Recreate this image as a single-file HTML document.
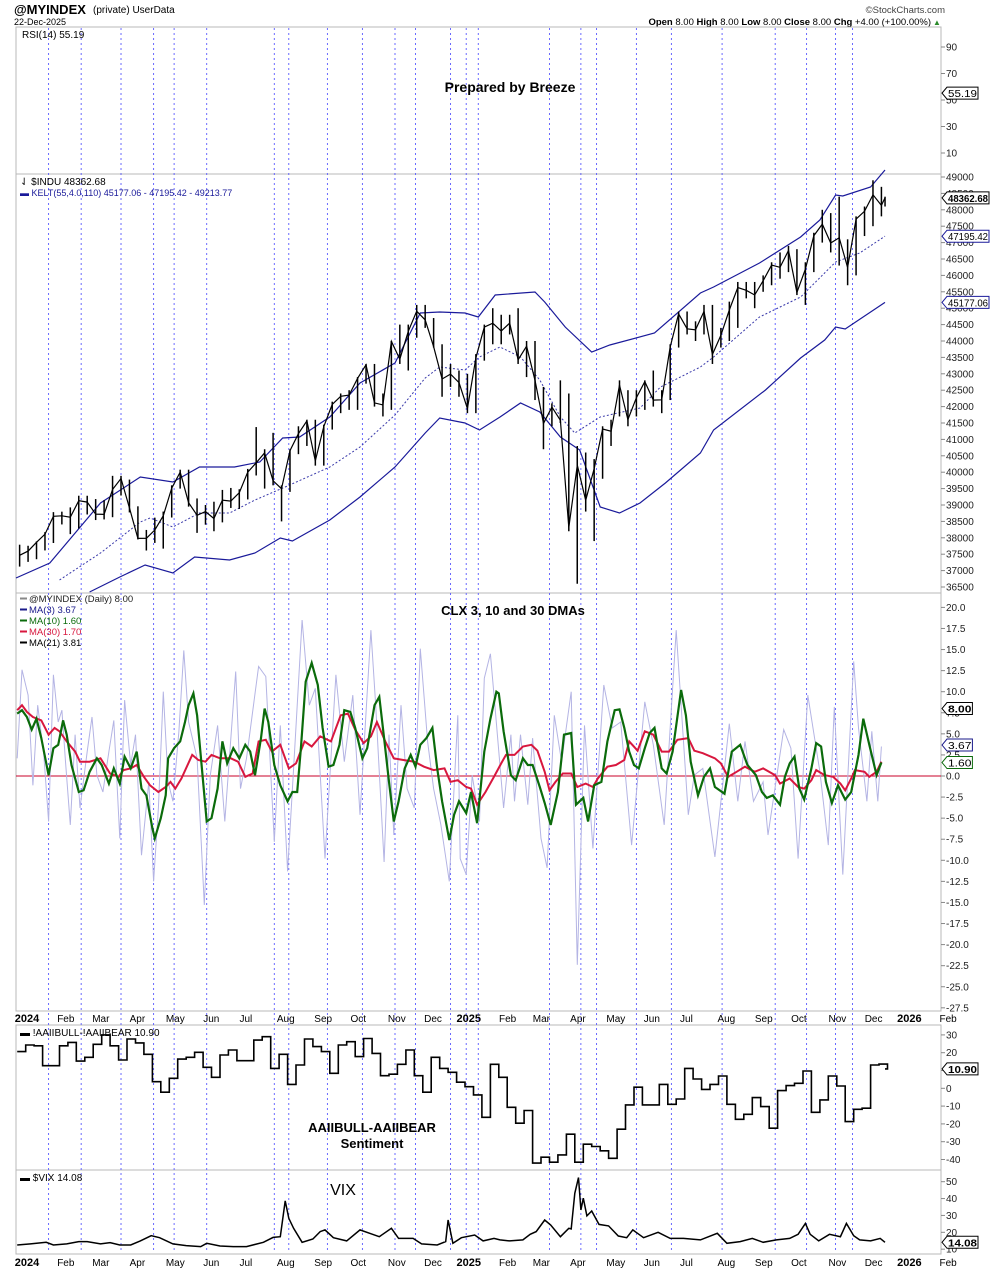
<!DOCTYPE html>
<html><head><meta charset="utf-8">
<style>
html,body{margin:0;padding:0;background:#fff;}
svg{display:block;font-family:"Liberation Sans",sans-serif;}
</style></head>
<body>
<svg id="chart" width="990" height="1270" viewBox="0 0 990 1270" xmlns="http://www.w3.org/2000/svg">
  <rect x="0" y="0" width="990" height="1270" fill="#fff"/>
  <text x="14" y="14" font-size="13" font-weight="bold">@MYINDEX</text>
  <text x="93" y="13" font-size="10">(private) UserData</text>
  <text x="14" y="25" font-size="9">22-Dec-2025</text>
  <text x="945" y="13" font-size="9.5" text-anchor="end" fill="#444">©StockCharts.com</text>
  <text x="931" y="25" font-size="9.5" text-anchor="end"><tspan font-weight="bold">Open</tspan> 8.00 <tspan font-weight="bold">High</tspan> 8.00 <tspan font-weight="bold">Low</tspan> 8.00 <tspan font-weight="bold">Close</tspan> 8.00 <tspan font-weight="bold">Chg</tspan> +4.00 (+100.00%)</text>
  <text x="933" y="25" font-size="8" fill="#2a8a2a">▲</text>
  <g id="layer"></g>
  <text x="510" y="92" font-size="14" font-weight="bold" text-anchor="middle">Prepared by Breeze</text>
  <text x="513" y="615" font-size="13" font-weight="bold" text-anchor="middle">CLX 3, 10 and 30 DMAs</text>
  <text x="372" y="1132" font-size="13" font-weight="bold" text-anchor="middle">AAIIBULL-AAIIBEAR</text>
  <text x="372" y="1148" font-size="13" font-weight="bold" text-anchor="middle">Sentiment</text>
  <text x="343" y="1195" font-size="16" text-anchor="middle">VIX</text>
</svg>
<script>
// ---------- DATA ----------
const priceCloses = [37466,37593,37863,38109,38654,38671,38627,39131,39087,38722,38714,39475,39807,38904,37983,37986,38239,38675,39512,40003,39069,38686,38799,38589,39150,39118,39375,40000,40287,40589,39737,39497,40659,41175,41563,40345,41393,42063,42313,42352,42864,43275,42114,42052,43989,43444,44297,44910,44642,43828,42840,42992,
42732,41938,43488,44424,44544,44303,44546,43428,43841,42801,41488,41985,41583,38315,40212,39142,40113,41317,41249,42654,41603,42270,42762,42197,42206,43819,44828,44371,44342,44902,43589,44175,44946,45631,45545,45401,45834,46315,46247,46758,45480,46191,47207,47563,46987,47147,46245,47716,47955,48458,48134,48362];
const priceLows = [37122,37266,37347,37615,37841,38407,38112,38283,38711,38541,38560,38628,39289,38773,37950,37612,37844,37670,38618,39500,38950,38150,38400,38200,38470,38910,38880,39170,39900,39500,39600,38500,39400,40550,40800,40200,40200,41300,41800,41900,41900,42700,42000,41700,41900,43300,43100,44100,44400,43800,42300,42600,
42300,41800,41800,43400,43900,43900,44200,43300,42900,42200,40700,41400,41500,38200,36600,38800,37900,39800,40800,41700,41400,41700,41900,42000,41800,42200,43800,44200,44000,44200,43300,43800,44000,44400,45300,45000,45500,45700,45900,46100,45400,45100,46100,47000,46700,46300,45700,46000,47200,47500,47800,48100];
const priceHighs = [37790,37757,37890,38172,38783,38797,38927,39283,39282,39181,39148,39889,39889,39775,38960,38240,38614,38800,39600,40077,40077,39200,39000,39100,39460,39520,39480,40100,41376,40700,41200,39600,40700,41400,41600,41600,41450,42150,42400,42500,42900,43300,43300,42400,44000,44500,44500,45100,45100,44700,43900,43300,
43100,43000,43600,44500,45000,44800,44800,45000,44000,44000,42600,42100,42800,42400,40800,40600,40400,41400,41600,42800,42500,42500,42800,43100,42500,43900,44900,44900,44600,45100,45100,44400,45200,45800,45800,45800,46000,46400,46700,46900,46800,46400,47300,48000,47900,48400,47100,47800,48100,48900,48700,48400];
const upperDays = [0,28,70,103,130,152,181,202,221,235,260,285,314,335,351,372,383,397,430,438,455,477,492,529,567,578,616,650,666,679,685,708,720];
const upperVals = [36774,37231,39060,39853,39701,40158,40158,40310,41042,41073,41683,42719,43329,44854,44884,44854,44732,45402,45494,45189,44427,43665,43878,44244,45463,45646,46378,47171,47689,48451,48421,48695,49214];
const midDays = [36,70,103,111,130,152,177,198,223,260,285,314,339,351,372,384,401,418,434,451,463,484,517,534,567,578,616,650,679,699,720];
const midVals = [36713,37536,38481,38603,38329,38755,38755,39152,39548,40158,40768,41743,42872,43207,43115,43512,43817,43512,42811,41682,41194,41682,41957,42597,43207,43512,44732,45342,46409,46683,47195];
const lowDays = [61,86,107,130,148,177,198,219,229,260,285,314,339,351,372,384,401,418,434,451,467,484,500,517,538,567,578,621,650,670,679,687,720];
const lowVals = [36347,36804,37170,36926,37414,37322,37536,37993,37902,38542,39243,40158,41194,41652,41499,41286,41682,42109,41835,41073,40676,38938,38755,39060,39670,40585,41286,42506,43482,44030,44427,44366,45177];

const rawDays = [1,5,10,14,18,23,27,31,35,38,41,45,49,53,59,63,67,72,77,81,86,90,95,99,104,110,114,118,122,126,130,135,139,143,150,156,161,167,173,182,186,191,201,207,214,219,225,230,237,243,248,256,265,272,279,285,294,298,305,309,313,319,324,330,335,341,346,352,359,366,368,373,
378,384,388,393,396,404,410,413,418,424,428,435,440,446,452,460,465,471,478,487,494,501,510,521,528,537,547,557,562,569,579,591,598,604,611,619,623,636,642,648,656,666,673,678,685,694,698,705,709,714,717];
const rawVals = [2.1,12.6,9.6,-1.1,8.4,2.5,-5.4,12.0,6.4,7.8,1.7,-5.8,4.9,-3.8,2.9,7.0,0.1,-1.9,2.9,6.6,-7.4,9.0,1.3,4.9,-9.4,-0.7,-12.5,-3.8,10.0,-0.7,-3.0,5.3,14.9,6.4,2.1,-15.3,0.1,6.0,-5.4,12.4,-1.5,2.1,13.0,11.8,-7.8,6.0,-11.3,0.9,18.5,8.4,10.4,-9.8,12.0,1.7,9.6,-4.6,17.3,8.4,-10.2,4.9,-7.0,8.4,-1.5,-3.8,15.1,4.1,-1.5,-5.8,-12.5,7.2,-9.8,-11.7,
0.1,-5.4,11.6,14.5,9.6,-3.8,4.9,-3.0,4.9,-3.4,4.5,-7.4,-10.9,7.2,1.7,10.0,-22.4,6.0,-8.6,10.8,5.7,6.4,-8.2,8.8,3.7,-5.8,17.3,-4.6,0.1,0.9,-9.6,6.2,-3.0,4.1,-3.0,-0.7,-7.0,5.5,3.3,-9.8,9.6,0.5,-8.2,8.2,-11.7,13.6,5.7,-3.0,5.3,-3.0,3.5];

const ma10Days = [1,5,9,13,17,21,27,31,35,39,42,46,52,56,61,67,71,77,81,86,90,95,100,104,108,113,115,120,124,126,131,136,140,143,147,150,154,158,162,167,171,175,180,185,190,194,198,203,206,209,214,219,225,229,233,236,240,245,250,254,259,263,268,272,277,281,287,291,297,301,305,309,313,317,322,327,331,335,340,345,349,353,359,363,367,373,377,
382,388,393,398,400,404,410,414,420,424,428,434,438,443,449,454,460,464,470,474,479,485,490,496,500,504,508,512,516,521,525,529,535,539,544,551,555,559,565,570,575,579,587,593,600,606,613,618,622,627,633,637,641,645,649,653,659,663,667,671,676,681,687,692,698,702,707,713,717];
const ma10Vals = [7.4,7.8,7.0,5.5,6.8,4.5,0.1,3.3,3.7,6.6,4.9,1.3,-1.9,-1.7,0.5,2.1,1.3,-0.9,0.9,-0.9,2.3,0.9,2.9,-1.5,-2.3,-6.2,-7.4,-5.0,-2.3,2.1,3.3,4.1,6.4,8.4,9.8,7.2,0.9,-5.4,-5.0,-1.5,4.1,1.5,3.3,2.1,3.7,2.9,0.1,4.5,8.0,6.4,1.3,-1.1,-3.0,-1.9,-1.9,3.3,11.2,13.4,10.8,5.7,1.1,1.3,3.7,7.8,7.6,5.7,2.1,3.3,8.4,9.4,4.5,-0.7,-5.4,-3.0,0.9,2.5,1.1,3.7,4.5,5.7,0.9,-3.0,-7.6,-4.6,-3.0,-4.4,-1.9,
-5.6,2.9,6.8,10.0,9.8,5.3,0.1,-0.5,2.1,1.3,1.3,-1.3,-3.2,-5.8,-1.9,4.9,5.1,-3.4,-2.6,-5.4,-1.1,-0.7,4.1,7.8,7.9,5.7,2.9,1.3,0.9,3.3,5.1,5.7,0.9,0.3,2.9,10.2,7.2,1.7,-2.3,-0.1,0.9,-1.3,-2.1,2.9,3.7,1.3,0.1,-1.9,-2.6,-2.3,-3.4,-0.1,1.5,2.3,-1.5,-2.8,0.9,3.9,3.5,-0.7,-3.2,-1.1,-2.8,-1.9,2.5,6.8,3.7,0.1,1.6];

const ma30Days = [1,5,9,14,21,27,32,36,42,49,53,61,70,78,85,89,95,100,106,111,118,124,128,132,137,146,151,157,162,169,178,184,190,196,201,207,212,219,226,232,239,245,252,261,269,275,281,288,294,299,306,313,321,330,338,346,355,360,366,373,377,
382,389,396,402,406,413,420,427,432,438,442,447,453,460,465,472,478,482,490,497,504,508,515,521,528,535,541,548,557,562,569,579,584,590,597,604,612,619,629,633,641,648,653,659,663,670,677,683,687,692,695,703,707,713,717];
const ma30Vals = [7.8,8.4,7.6,7.0,6.6,4.9,5.7,5.3,4.1,2.9,1.7,1.7,2.1,0.3,-0.1,0.7,0.9,1.3,-0.1,-1.1,-1.9,-1.3,-0.7,-1.5,-0.3,2.5,1.9,1.7,2.5,2.1,2.1,1.7,-0.1,0.3,4.1,4.3,2.9,3.7,0.9,1.5,4.1,3.5,4.7,4.1,7.2,7.4,5.5,3.9,4.7,6.4,4.1,2.1,1.9,1.7,1.1,0.7,0.9,-0.7,-0.5,-1.3,-1.5,
-3.4,-1.9,-0.1,1.5,2.5,2.5,3.5,3.7,3.0,0.5,-1.7,-0.7,0.3,0.3,-1.3,-0.9,-1.3,-0.3,1.1,1.3,1.9,4.1,3.0,5.3,4.9,2.9,2.9,4.3,4.5,3.0,2.7,2.1,1.5,-0.1,0.5,1.1,0.5,0.9,0.1,-0.9,-0.3,-1.3,-1.5,-0.5,0.7,0.1,-0.1,-0.9,-1.7,-0.3,0.7,0.5,-0.1,0.5,1.7];

const aaiiVals = [20.6,24.3,23.9,12.7,12.7,23.9,25.8,15.3,17.4,24.7,30.0,23.9,15.9,27.7,25.5,19.1,3.7,-2.2,5.6,16.4,17.4,20.2,11.8,6.2,18.7,21.5,15.5,15.5,27.1,29.0,11.2,19.1,2.2,13.1,27.7,23.4,20.6,8.4,24.3,26.2,17.8,28.0,19.6,7.1,7.9,13.5,21.5,7.1,-2.2,17.4,11.2,9.0,3.4,0.9,-3.7,-16.3,13.5,6.2,
-10.7,-19.6,-12.5,-42.0,-38.7,-41.5,-37.4,-25.8,-41.5,-31.4,-32.7,-35.1,-39.3,-23.0,-9.3,0.6,-9.3,-9.3,2.2,-9.0,-6.0,11.2,5.2,-0.6,2.2,6.9,-9.0,-17.4,-14.6,-5.2,-10.3,-22.4,-1.3,1.5,2.8,9.7,-13.5,-6.5,6.9,1.3,-18.7,-11.8,-11.2,13.1,13.6,10.9];

const vixDays = [1,12,25,31,42,52,59,70,78,86,95,103,112,119,130,141,153,158,169,180,191,205,213,219,223,226,230,237,246,252,256,263,274,285,293,301,311,317,329,336,349,356,358,362,369,380,387,396,401,409,420,426,431,438,443,451,458,460,463,466,468,470,473,477,483,491,499,506,511,520,532,542,553,567,581,589,600,610,619,630,641,648,654,658,665,674,683,688,694,699,708,716,720];
const vixVals = [12.5,13.1,14.1,12.5,13.1,14.5,14.5,13.1,13.9,12.5,12.5,14.9,18.0,16.8,13.1,12.1,11.5,13.5,11.9,11.5,11.5,14.1,17.0,17.4,38.6,28.3,22.4,14.1,16.0,20.4,21.4,16.8,14.9,21.4,19.4,17.4,22.4,16.4,16.4,13.1,12.5,14.5,27.3,13.5,16.8,18.4,14.9,16.4,15.5,14.9,15.5,18.8,20.4,27.3,24.3,17.4,22.4,22.0,43.1,52.4,33.2,40.2,29.7,32.6,24.7,23.8,17.8,16.8,21.4,16.8,20.0,16.4,16.4,15.5,19.4,13.5,14.5,16.4,14.1,15.5,16.4,18.8,25.3,18.8,14.9,18.8,17.4,25.3,18.0,15.5,14.9,16.4,14.08];

const priceTicks = [36500,37000,37500,38000,38500,39000,39500,40000,40500,41000,41500,42000,42500,43000,43500,44000,44500,45000,45500,46000,46500,47000,47500,48000,48500,49000];
const clxTicks = [20,17.5,15,12.5,10,7.5,5,2.5,0,-2.5,-5,-7.5,-10,-12.5,-15,-17.5,-20,-22.5,-25,-27.5];
const rsiTicks = [90,70,50,30,10];
const aaiiTicks = [30,20,10,0,-10,-20,-30,-40];
const vixTicks = [50,40,30,20,10];
const monthLabels = ["2024","Feb","Mar","Apr","May","Jun","Jul","Aug","Sep","Oct","Nov","Dec","2025","Feb","Mar","Apr","May","Jun","Jul","Aug","Sep","Oct","Nov","Dec","2026","Feb"];
const monthDays = [-1,30,59,90,120,151,181,212,243,273,304,334,365,396,424,455,485,516,546,577,608,638,669,699,730,761];
const markerDays = [27,54,87,114,131,158,214,226,258,287,314,331,360,373,383,442,468,481,514,543,585,629,655,679,693];

// ---------- SCALES ----------
const L = 16, R = 941;
const xDay = d => L + d * 1.207;
const yPrice = v => 177 + (49000 - v) / 500 * 16.4;
const yRsi = v => 47 + (90 - v) * 1.325;
const yClx = v => 776 - v * 8.43;
const yAaii = v => 1088.3 - v * 1.78;
const yVix = v => 1232.3 - (v - 20) * 1.687;

const NS = "http://www.w3.org/2000/svg";
const layer = document.getElementById("layer");
function mk(tag, attrs, parent) {
  const el = document.createElementNS(NS, tag);
  for (const k in attrs) el.setAttribute(k, attrs[k]);
  (parent || layer).appendChild(el);
  return el;
}
function linePath(days, vals, ys) {
  let d = "";
  for (let i = 0; i < vals.length; i++) d += (i ? "L" : "M") + xDay(days[i]).toFixed(1) + " " + ys(vals[i]).toFixed(1);
  return d;
}

const panels = [["rsi-panel",27,174],["price-panel",174,593],["clx-panel",593,1011],["aaii-panel",1025,1170],["vix-panel",1170,1254]];
for (const p of panels) {
  const r = mk("rect", {x:L, y:p[1], width:R-L, height:p[2]-p[1], fill:"none", stroke:"#b8b8b8", "stroke-width":1});
  
  
}

for (const md of markerDays) {
  const ln = mk("line", {x1:xDay(md), x2:xDay(md), y1:28, y2:1253, stroke:"#5a5aff", "stroke-width":0.9, "stroke-dasharray":"2,3"});
  
  
}

function axisLabels(ticks, ys, name, fmt, top, bot) {
  for (const t of ticks) {
    const y = ys(t);
    if (y < top || y > bot) continue;
    const tk = mk("line", {x1:R, x2:R+4, y1:y, y2:y, stroke:"#888"});
    
    
    const tx = mk("text", {x:R+5, y:y+3.5, "font-size":10, fill:"#222"});
    tx.textContent = fmt(t);
    
    
  }
}
axisLabels(rsiTicks, yRsi, "rsi-axis", t => String(t), 28, 174);
axisLabels(priceTicks, yPrice, "price-axis", t => String(t), 174, 593);
axisLabels(clxTicks, yClx, "clx-axis", t => t.toFixed(1), 593, 1011);
axisLabels(aaiiTicks, yAaii, "aaii-axis", t => String(t), 1025, 1170);
axisLabels(vixTicks, yVix, "vix-axis", t => String(t), 1170, 1254);

for (const row of [1022, 1266]) {
  for (let i = 0; i < monthLabels.length; i++) {
    const bold = /^\d{4}$/.test(monthLabels[i]);
    const tx = mk("text", {x:xDay(monthDays[i]) + (bold ? 0 : 5), y:row, "font-size": bold ? 11 : 10, "font-weight": bold ? "bold" : "normal"});
    tx.textContent = monthLabels[i];
    
    
  }
}

const rsiLeg = mk("text", {x:22, y:38, "font-size":10});
rsiLeg.textContent = "RSI(14) 55.19";



const kU = mk("path", {d:linePath(upperDays, upperVals, yPrice), fill:"none", stroke:"#1a1a9a", "stroke-width":1.2});


const kM = mk("path", {d:linePath(midDays, midVals, yPrice), fill:"none", stroke:"#3a3aaa", "stroke-width":1, "stroke-dasharray":"2,2"});


const kL = mk("path", {d:linePath(lowDays, lowVals, yPrice), fill:"none", stroke:"#1a1a9a", "stroke-width":1.2});



// price bars
const priceDays = priceCloses.map((_, i) => i < priceCloses.length - 1 ? 3 + 7 * i : 720);
for (let i = 0; i < priceCloses.length; i++) {
  const x = xDay(priceDays[i]);
  const b = mk("line", {x1:x, x2:x, y1:yPrice(priceHighs[i]), y2:yPrice(priceLows[i]), stroke:"#000", "stroke-width":1.5});
  
  
}
const pr = mk("path", {d:linePath(priceDays, priceCloses, yPrice), fill:"none", stroke:"#000", "stroke-width":1.2});



const pl1 = mk("text", {x:20, y:185, "font-size":10});
pl1.textContent = "⇃ $INDU 48362.68";


const pl2 = mk("text", {x:20, y:196, "font-size":9, fill:"#1a1a9a"});
pl2.textContent = "▬ KELT(55,4.0,110) 45177.06 - 47195.42 - 49213.77";



const zl = mk("line", {x1:L, x2:R, y1:yClx(0), y2:yClx(0), stroke:"#c8002a", "stroke-width":1});


const raw = mk("path", {d:linePath(rawDays, rawVals, yClx), fill:"none", stroke:"#b4b4e4", "stroke-width":1});


const m30 = mk("path", {d:linePath(ma30Days, ma30Vals, yClx), fill:"none", stroke:"#d8173e", "stroke-width":2});


const m10 = mk("path", {d:linePath(ma10Days, ma10Vals, yClx), fill:"none", stroke:"#0b6b0b", "stroke-width":2.2});



const legItems = [["@MYINDEX (Daily) 8.00","#888"],["MA(3) 3.67","#1a1a8a"],["MA(10) 1.60","#0b6b0b"],["MA(30) 1.70","#d8173e"],["MA(21) 3.81","#000"]];
for (let i = 0; i < legItems.length; i++) {
  const y = 602 + i * 11;
  const sw = mk("line", {x1:20, x2:27, y1:y-3.5, y2:y-3.5, stroke:legItems[i][1], "stroke-width":2});
  
  
  const t = mk("text", {x:29, y:y, "font-size":9.5, fill: i === 0 ? "#222" : legItems[i][1]});
  t.textContent = legItems[i][0];
  
  
}

let ad = "";
for (let k = 0; k < aaiiVals.length; k++) {
  const x = xDay(7 * k + 1), y = yAaii(aaiiVals[k]);
  ad += k === 0 ? "M" + x.toFixed(1) + " " + y.toFixed(1) : "H" + x.toFixed(1) + "V" + y.toFixed(1);
}
ad += "H" + xDay(720).toFixed(1);
const aa = mk("path", {d:ad, fill:"none", stroke:"#000", "stroke-width":1.6});


const al = mk("text", {x:20, y:1036, "font-size":10});
al.textContent = "▬ !AAIIBULL-!AAIIBEAR 10.90";



const vx = mk("path", {d:linePath(vixDays, vixVals, yVix), fill:"none", stroke:"#000", "stroke-width":1.5});


const vl = mk("text", {x:20, y:1181, "font-size":10});
vl.textContent = "▬ $VIX 14.08";



const tags = [
  [yRsi(55.19), "55.19", "#000", false, "rsi-value-tag"],
  [yPrice(48362.68), "48362.68", "#000", true, "price-value-tag"],
  [yPrice(47195.42), "47195.42", "#1a1a9a", false, "keltner-mid-tag"],
  [yPrice(45177.06), "45177.06", "#1a1a9a", false, "keltner-lower-tag"],
  [yClx(8.0), "8.00", "#000", true, "clx-value-tag"],
  [yClx(3.67), "3.67", "#1a1a8a", false, "ma3-value-tag"],
  [yClx(1.6), "1.60", "#0b6b0b", false, "ma10-value-tag"],
  [yAaii(10.9), "10.90", "#000", true, "aaii-value-tag"],
  [yVix(14.08), "14.08", "#000", true, "vix-value-tag"]
];
for (const t of tags) {
  const y = t[0], w = Math.min(t[1].length * 5.6 + 3, 989 - (R + 6));
  const pg = mk("polygon", {points:`${R+1},${y} ${R+6},${y-6} ${R+6+w},${y-6} ${R+6+w},${y+6} ${R+6},${y+6}`, fill:"#fff", stroke:t[2], "stroke-width":1});
  
  
  const tx = mk("text", {x:R+7, y:y+4, "font-size":10, "font-weight": t[3] ? "bold" : "normal", fill:"#000", textLength: w - 2, lengthAdjust:"spacingAndGlyphs"});
  tx.textContent = t[1];
  
  
}
</script>
</body></html>
